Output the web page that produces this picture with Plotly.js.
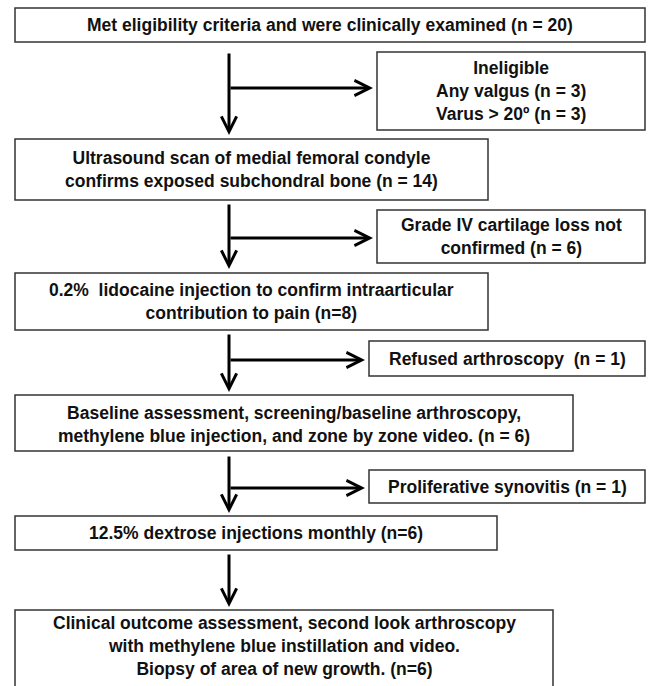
<!DOCTYPE html>
<html>
<head>
<meta charset="utf-8">
<script src="https://cdn.plot.ly/plotly-3.0.1.min.js"></script>
<style>html,body{margin:0;padding:0;background:#fff;}#chart{width:651px;height:686px;}</style>
</head>
<body>
<div id="chart"></div>
<script>
// ---- content (data) ----
const mainSteps = [
  "Met eligibility criteria and were clinically examined (n = 20)",
  "Ultrasound scan of medial femoral condyle<br>confirms exposed subchondral bone (n = 14)",
  "0.2%\u00a0 lidocaine injection to confirm intraarticular<br>contribution to pain (n=8)",
  "Baseline assessment, screening/baseline arthroscopy,<br>methylene blue injection, and zone by zone video. (n = 6)",
  "12.5% dextrose injections monthly (n=6)",
  "Clinical outcome assessment, second look arthroscopy<br>with methylene blue instillation and video.<br>Biopsy of area of new growth. (n=6)"
];
const exclusions = [
  "Ineligible<br>Any valgus (n = 3)<br>Varus > 20\u00ba (n = 3)",
  "Grade IV cartilage loss not<br>confirmed (n = 6)",
  "Refused arthroscopy\u00a0 (n = 1)",
  "Proliferative synovitis (n = 1)"
];

// ---- geometry (layout, pixel space) ----
const mainBoxX0 = [15, 15, 15, 15, 15, 15];
const mainBoxX1 = [645, 488, 488, 573, 497, 553];
const mainBoxY0 = [8, 139, 273, 395, 516, 610];
const mainBoxY1 = [42, 200, 330, 451, 550, 700];
const mainTextY = [25, 169.5, 301.5, 424.5, 533, 646];
const sideBoxX0 = [377, 377, 369, 369];
const sideBoxX1 = [645, 645, 645, 645];
const sideBoxY0 = [52, 210, 341, 470];
const sideBoxY1 = [130, 263, 376, 503];
const stemX = 229;
const stemY0 = [52, 203, 333, 455, 553];
const stemTip = [135, 269, 392, 513, 607];
const branchY = [88, 238, 360, 488];

const FONT = {family: "Liberation Sans, Arial, sans-serif", size: 17.5, color: "#111"};
const shapes = [];
const annotations = [];

function box(x0, x1, y0, y1) {
  shapes.push({type: "rect", xref: "x", yref: "y", x0, x1, y0, y1,
    line: {color: "#333", width: 1.5}, fillcolor: "rgba(0,0,0,0)"});
}
function label(x, y, text) {
  annotations.push({xref: "x", yref: "y", x, y, text: "<b>" + text + "</b>",
    showarrow: false, xanchor: "center", yanchor: "middle", align: "center", font: FONT});
}
function arrow(x0, y0, x1, y1) {
  annotations.push({xref: "x", yref: "y", axref: "x", ayref: "y",
    x: x1, y: y1, ax: x0, ay: y0, text: "", showarrow: true,
    arrowhead: 5, arrowsize: 1, arrowwidth: 3, arrowcolor: "#000", standoff: 0, startstandoff: 0});
}

mainSteps.forEach((t, i) => {
  box(mainBoxX0[i], mainBoxX1[i], mainBoxY0[i], mainBoxY1[i]);
  label((mainBoxX0[i] + mainBoxX1[i]) / 2, mainTextY[i], t);
});
exclusions.forEach((t, i) => {
  box(sideBoxX0[i], sideBoxX1[i], sideBoxY0[i], sideBoxY1[i]);
  label((sideBoxX0[i] + sideBoxX1[i]) / 2, (sideBoxY0[i] + sideBoxY1[i]) / 2, t);
});
stemY0.forEach((y0, i) => arrow(stemX, y0, stemX, stemTip[i]));
branchY.forEach((y, i) => arrow(stemX, y, sideBoxX0[i] - 4, y));

Plotly.newPlot("chart", [], {
  width: 651, height: 686,
  margin: {l: 0, r: 0, t: 0, b: 0},
  paper_bgcolor: "#fff", plot_bgcolor: "#fff",
  xaxis: {range: [0, 651], visible: false, fixedrange: true},
  yaxis: {range: [686, 0], visible: false, fixedrange: true},
  shapes, annotations, showlegend: false
}, {staticPlot: true});
</script>
</body>
</html>
